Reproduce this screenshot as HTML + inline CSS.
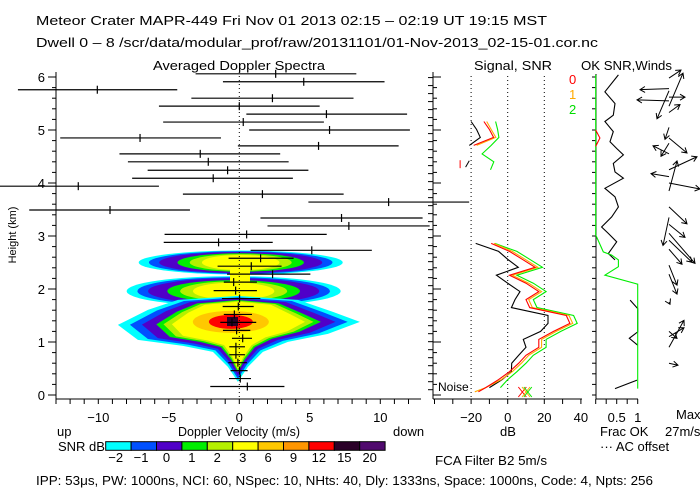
<!DOCTYPE html>
<html><head><meta charset="utf-8">
<style>
html,body{margin:0;padding:0;background:#fff;}
svg{display:block;font-family:"Liberation Sans",sans-serif;}
</style></head>
<body>
<svg id="chart" width="700" height="500" viewBox="0 0 700 500" xmlns="http://www.w3.org/2000/svg">
<rect width="700" height="500" fill="#fff"/>
<g id="spec"></g>
<g id="sig"></g>
<g id="ok"></g>
<g id="wind"></g>
<g id="cbar"></g>
<g id="txt" font-size="13" fill="#000">
<text x="36" y="25" textLength="511" lengthAdjust="spacingAndGlyphs">Meteor Crater   MAPR-449   Fri Nov 01 2013 02:15 – 02:19 UT 19:15 MST</text>
<text x="36" y="47" textLength="562" lengthAdjust="spacingAndGlyphs">Dwell  0 –  8   /scr/data/modular_prof/raw/20131101/01-Nov-2013_02-15-01.cor.nc</text>
<text x="153" y="70" textLength="172" lengthAdjust="spacingAndGlyphs">Averaged Doppler Spectra</text>
<text x="474" y="70" textLength="78" lengthAdjust="spacingAndGlyphs">Signal, SNR</text>
<text x="581" y="70" textLength="91" lengthAdjust="spacingAndGlyphs">OK SNR,Winds</text>
<text x="16" y="235" transform="rotate(-90 16 235)" text-anchor="middle" font-size="11">Height (km)</text>
<text x="239" y="436" text-anchor="middle" textLength="122" lengthAdjust="spacingAndGlyphs">Doppler Velocity (m/s)</text>
<text x="57" y="436">up</text>
<text x="393" y="436">down</text>
<text x="58" y="451">SNR dB</text>
<text x="508" y="436" text-anchor="middle">dB</text>
<text x="600" y="436">Frac OK</text>
<text x="600" y="451">··· AC offset</text>
<text x="676" y="419">Max</text>
<text x="665" y="436">27m/s</text>
<text x="435" y="465" textLength="112" lengthAdjust="spacingAndGlyphs">FCA Filter B2   5m/s</text>
<text x="438" y="391" font-size="12">Noise</text>
<text x="569" y="84" fill="#ff0000">0</text>
<text x="569" y="99" fill="#ffaa00">1</text>
<text x="569" y="114" fill="#00dd00">2</text>
<text x="36" y="485" textLength="617" lengthAdjust="spacingAndGlyphs">IPP:  53μs,  PW: 1000ns,  NCI:  60,  NSpec: 10, NHts: 40,  Dly: 1333ns,  Space: 1000ns,  Code: 4,  Npts: 256</text>
</g>
</svg>
<script>
// ---- spectra moment data (one row per range gate) ----
const gateHeights = [6.06,5.91,5.76,5.60,5.45,5.30,5.15,5.00,4.85,4.70,4.55,4.40,4.24,4.09,3.94,3.79,3.64,3.49,3.34,3.19,3.03,2.88,2.73,2.58,2.43,2.28,2.13,1.97,1.82,1.67,1.52,1.37,1.22,1.07,0.91,0.76,0.61,0.46,0.31,0.16];
const velCenter = [2.58,4.57,-10.07,2.35,0,6.18,0.28,6.4,-7.04,5.62,-2.77,-2.2,-0.83,-1.85,-11.42,1.64,10.59,-9.17,7.25,7.77,0.52,-1.47,5.14,1.51,0.85,2.36,-0.4,-0.26,0.02,-0.07,-0.35,-0.52,-0.19,0.24,-0.24,-0.24,-0.1,0.02,0.07,0.57];
const velLeft = [-3.1,-1.16,-15.7,-3.4,-5.7,0.5,-5.4,0.7,-12.7,-0.1,-8.5,-7.9,-6.5,-7.6,-17,-4.0,4.9,-14.9,1.5,2.0,-5.3,-5.36,0.8,-0.76,-1.54,-0.87,-1.1,-1.82,-1.23,-1.18,-1.1,-1.35,-1.16,-0.52,-0.71,-0.71,-0.78,-0.62,-0.73,-2.06];
const velRight = [8.3,10.3,-4.4,8.1,5.7,11.9,6.0,12.1,-1.3,11.3,2.9,3.5,4.9,3.8,-5.7,7.4,16.3,-3.5,13.0,13.5,6.2,2.37,9.4,3.85,3.0,5.04,1.25,1.25,1.49,1.02,0.9,1.2,0.78,0.9,0.4,0.4,0.54,0.59,0.83,3.2];
const velTicks = [-10,-5,0,5,10];
const heightTicks = [0,1,2,3,4,5,6];
// ---- signal / SNR profiles ----
const sigHeightsLow = [2.86,2.71,2.56,2.41,2.26,2.11,1.95,1.80,1.65,1.50,1.35,1.20,1.05,0.90,0.75,0.60,0.44,0.29,0.14,0.06];
const sigBlackLow = [-17.5,-5,0,5.8,-6.2,0,6.7,4,2,22,22,18,8.5,10,6,2.2,2,-3,-10,null];
const sigRedLow = [-9,1,8,15,1,10,17,10,12,32,34,25,17,17,10,6,1,-5,-12,-16];
const sigOrangeLow = [-7.5,2.5,9.5,16.5,2.5,11.5,18.5,11.5,13.5,33.5,35.5,26.5,18.5,18.5,11.5,7.5,2.5,-3.5,-12,-18];
const sigGreenLow = [-7,5,12,19,5,14,21,14,16,36,38,29,21,21,14,10,5,0,-4,null];
const sigHeightsUp = [5.16,5.01,4.86,4.71,4.55,4.40,4.25];
const sigBlackUp = [-20,-17,-15,-21,null,null,null];
const sigRedUp = [-13,-10,-7.7,-18.6,null,null,null];
const sigOrangeUp = [-11.5,-9,-6.5,-17,null,null,null];
const sigGreenUp = [-6.6,-5.5,-4.8,-9,-14,-7.6,-9.4];
const noiseDb = [8,10,11];
const dbTicks = [-20,0,20,40];
// ---- fraction OK profiles ----
const okBlackH = [6.04,5.72,5.50,5.28,5.16,4.97,4.78,4.65,4.53,4.37,4.21,4.09,3.90,3.74,3.55,3.36,3.17,3.05,2.89,2.67,2.55];
const okBlackF = [0.54,0.22,0.46,0.42,0.22,0.42,0.34,0.5,0.66,0.42,0.46,0.66,0.22,0.46,0.54,0.38,0.14,0.30,0.5,0.30,0.46];
const okBlack2H = [1.79,1.63,1.48,1.19,1.07,0.94];
const okBlack2F = [0.82,1.0,1.0,1.0,0.8,1.0];
const okBlack3H = [0.12,0.28];
const okBlack3F = [0.46,0.98];
const okGreenH = [6.04,3.02,2.70,2.64,2.55,2.42,2.26,2.09,0.12];
const okGreenF = [0,0,0.18,0.38,0.54,0.54,0.22,1.0,1.0];
const okRedH = [5.0,4.85,4.69];
const okRedF = [0,0.1,0];
const fracTicks = [0.5,1];
// ---- winds (arrow components, pixels) ----
const windH = [5.98,5.78,5.74,5.62,5.55,5.45,5.33,5.05,4.85,4.75,4.55,4.25,4.12,4.0,3.85,3.55,3.35,3.22,3.05,2.92,2.75,2.45,2.28,1.75,1.2,1.1,0.9,0.6];
const windU = [12,-29,-12,16,-32,14,11,-4,18,-8,-16,28,-18,31,8,18,-6,16,26,23,13,8,8,1,8,15,15,9];
const windV = [-8,1,28,0,-1,-33,-8,12,15,13,-8,-13,-3,6,-30,17,28,13,30,22,15,20,20,2,7,-9,-27,2];
// ---- colorbar ----
const snrLevels = ["-2","-1","0","1","2","3","6","9","12","15","20"];
const snrColors = ["#00ffff","#0050ff","#5000c8","#00ee00","#b4f000","#ffff00","#ffc800","#ff9600","#ff0000","#2a0028","#500a6e"];

const NS = "http://www.w3.org/2000/svg";
function mk(parent, tag, attrs, text){
  const e = document.createElementNS(NS, tag);
  for (const k in attrs) e.setAttribute(k, attrs[k]);
  if (text !== undefined) e.textContent = text;
  parent.appendChild(e);
  return e;
}
const hy = h => 395 - 53*h;
const vx = v => 239.3 + 14.1*v;
const dx = d => 507.7 + 1.83*d;
const fx = f => 595.7 + 42*f;

// ================= spectra panel =================
const spec = document.getElementById('spec');
const baseC = [[-120,3],[-90,-12],[-60,-22],[0,-26],[60,-22],[95,-10],[122,0],[90,12],[50,20],[25,30],[10,45],[0,60],[-10,45],[-25,30],[-55,24],[-100,18]];
const levelScaleAB = [1.0,0.9,0.8,0.62,0.5,0.38];
const levelScaleC = [1.0,0.9,0.8,0.68,0.62,0.55];
levelScaleAB.forEach((s,i)=>{
  let e = mk(spec,'ellipse',{cx:vx(0.1),cy:hy(2.5),rx:102*s,ry:12*(0.4+0.6*s),fill:snrColors[i]});
  
  
  e = mk(spec,'ellipse',{cx:vx(-0.4),cy:hy(1.96),rx:107*s,ry:15*(0.3+0.7*s),fill:snrColors[i]});
  
  
});
mk(spec,'rect',{x:230,y:hy(2.45),width:20,height:hy(1.45)-hy(2.45),fill:snrColors[5]});
levelScaleC.forEach((s,i)=>{
  const cx = vx(-0.1), cy = hy(1.38);
  const pts = baseC.map(p=>(cx+p[0]*s).toFixed(1)+','+(cy+p[1]*(0.5+0.5*s)).toFixed(1)).join(' ');
  const e = mk(spec,'polygon',{points:pts,fill:snrColors[i]});
  
  
});
[[38,11,6],[22,7,8]].forEach(a=>{
  const e = mk(spec,'ellipse',{cx:vx(-0.6),cy:hy(1.38),rx:a[0],ry:a[1],fill:snrColors[a[2]]});
  
  
});
mk(spec,'rect',{x:227,y:317,width:11,height:9,fill:snrColors[9]});
let z = mk(spec,'line',{x1:vx(0),y1:72,x2:vx(0),y2:399,stroke:'#000','stroke-dasharray':'1,3'});


gateHeights.forEach((h,i)=>{
  const y = hy(h);
  const xl = Math.max(0, vx(velLeft[i])), xr = Math.min(470, vx(velRight[i]));
  const b = mk(spec,'line',{x1:xl,y1:y,x2:xr,y2:y,stroke:'#000','stroke-width':1.2});
  
  
  const c = mk(spec,'line',{x1:vx(velCenter[i]),y1:y-4,x2:vx(velCenter[i]),y2:y+4,stroke:'#000','stroke-width':1.2});
  
  
});
mk(spec,'path',{d:'M56,72V399H421',fill:'none',stroke:'#000'});
mk(spec,'line',{x1:433,y1:72,x2:433,y2:399,stroke:'#000'});
for(let h=0; h<=6.01; h+=0.2){
  const maj = Math.abs(h-Math.round(h))<0.01;
  mk(spec,'line',{x1:maj?48:52,y1:hy(h),x2:56,y2:hy(h),stroke:'#000'});
  mk(spec,'line',{x1:433,y1:hy(h),x2:maj?441:437,y2:hy(h),stroke:'#000'});
}
heightTicks.forEach(h=>{
  const t = mk(spec,'text',{x:45,y:hy(h)+5,'text-anchor':'end','font-size':13},String(h));
  
  
});
for(let v=-13; v<=12; v++){
  mk(spec,'line',{x1:vx(v),y1:399,x2:vx(v),y2:404,stroke:'#000'});
}
velTicks.forEach(v=>{
  const t = mk(spec,'text',{x:vx(v),y:422,'text-anchor':'middle','font-size':13},v<0?'−'+(-v):String(v));
  
  
});

// ================= signal panel =================
const sig = document.getElementById('sig');
dbTicks.slice(0,3).forEach(d=>{
  const l = mk(sig,'line',{x1:dx(d),y1:76,x2:dx(d),y2:399,stroke:'#000','stroke-dasharray':'1,3'});
  
  
});
for(let g=0; g<40; g++){ mk(sig,'line',{x1:428,y1:hy(0.151*g+0.1),x2:433,y2:hy(0.151*g+0.1),stroke:'#000'}); }
mk(sig,'line',{x1:433,y1:399,x2:582,y2:399,stroke:'#000'});
for(let d=-40; d<=40; d+=10){ mk(sig,'line',{x1:dx(d),y1:399,x2:dx(d),y2:404,stroke:'#000'}); }
dbTicks.forEach(d=>{
  const t = mk(sig,'text',{x:dx(d),y:422,'text-anchor':'middle','font-size':13},d<0?'−'+(-d):String(d));
  
  
});
function profile(g, hs, vals, xf, color, name){
  let d='', pen=false;
  hs.forEach((h,i)=>{
    if(vals[i]===null){pen=false;return;}
    d += (pen?'L':'M') + xf(vals[i]).toFixed(1)+','+hy(h).toFixed(1);
    pen=true;
  });
  const p = mk(g,'path',{d:d,fill:'none',stroke:color,'stroke-width':1.1});
  
  
}
profile(sig,sigHeightsLow,sigBlackLow,dx,'#000','signal-line-low');
profile(sig,sigHeightsLow,sigGreenLow,dx,'#00ee00','snr-2-line-low');
profile(sig,sigHeightsLow,sigOrangeLow,dx,'#ffaa00','snr-1-line-low');
profile(sig,sigHeightsLow,sigRedLow,dx,'#ff0000','snr-0-line-low');
profile(sig,sigHeightsUp,sigBlackUp,dx,'#000','signal-line-up');
profile(sig,sigHeightsUp,sigGreenUp,dx,'#00ee00','snr-2-line-up');
profile(sig,sigHeightsUp,sigOrangeUp,dx,'#ffaa00','snr-1-line-up');
profile(sig,sigHeightsUp,sigRedUp,dx,'#ff0000','snr-0-line-up');
mk(sig,'line',{x1:dx(-26),y1:hy(4.43),x2:dx(-26),y2:hy(4.28),stroke:'#ff0000'});
mk(sig,'line',{x1:dx(-23),y1:hy(4.3),x2:dx(-21),y2:hy(4.42),stroke:'#000'});
const noiseColors = ['#ff0000','#ffaa00','#00ee00'];
noiseDb.forEach((d,i)=>{
  const x = dx(d), y = 392;
  const m = mk(sig,'path',{d:`M${x-4},${y-5}L${x+4},${y+5}M${x+4},${y-5}L${x-4},${y+5}`,stroke:noiseColors[i],fill:'none'});
  
  
});

// ================= OK SNR panel =================
const ok = document.getElementById('ok');
mk(ok,'line',{x1:596,y1:74,x2:596,y2:399,stroke:'#000'});
mk(ok,'line',{x1:596,y1:399,x2:638,y2:399,stroke:'#000'});
for(let h=0; h<=6.01; h+=0.2){ mk(ok,'line',{x1:592,y1:hy(h),x2:596,y2:hy(h),stroke:'#000'}); }
for(let f=0; f<=1.01; f+=0.25){ mk(ok,'line',{x1:fx(f),y1:399,x2:fx(f),y2:404,stroke:'#000'}); }
fracTicks.forEach(f=>{
  const t = mk(ok,'text',{x:fx(f),y:422,'text-anchor':'middle','font-size':13},String(f));
  
  
});
profile(ok,okBlackH,okBlackF,fx,'#000','frac-ok-line');
profile(ok,okBlack2H,okBlack2F,fx,'#000','frac-ok-line-2');
profile(ok,okBlack3H,okBlack3F,fx,'#000','frac-ok-line-3');
profile(ok,okGreenH,okGreenF,fx,'#00ee00','ok-snr-line');
profile(ok,okRedH,okRedF,fx,'#ff0000','ok-snr-red-line');

// ================= winds =================
const wind = document.getElementById('wind');
windH.forEach((h,i)=>{
  const x0 = 669, y0 = hy(h), x1 = x0+windU[i], y1 = y0+windV[i];
  const L = Math.hypot(windU[i],windV[i])||1, ux=windU[i]/L, uy=windV[i]/L;
  const hx1 = x1-5*ux+3*uy, hy1 = y1-5*uy-3*ux, hx2 = x1-5*ux-3*uy, hy2 = y1-5*uy+3*ux;
  const a = mk(wind,'path',{d:`M${x0},${y0}L${x1},${y1}M${hx1},${hy1}L${x1},${y1}L${hx2},${hy2}`,stroke:'#000',fill:'none'});
  
  
});

// ================= colorbar =================
const cbar = document.getElementById('cbar');
snrLevels.forEach((lab,i)=>{
  const x = 105.7 + i*25.4;
  const r = mk(cbar,'rect',{x:x,y:441.7,width:25.4,height:8.6,fill:snrColors[i],stroke:'#000','stroke-width':1});
  
  
  const t = mk(cbar,'text',{x:x+10,y:462,'text-anchor':'middle','font-size':13},lab.replace('-','−'));
  
  
});
</script>
</body></html>
